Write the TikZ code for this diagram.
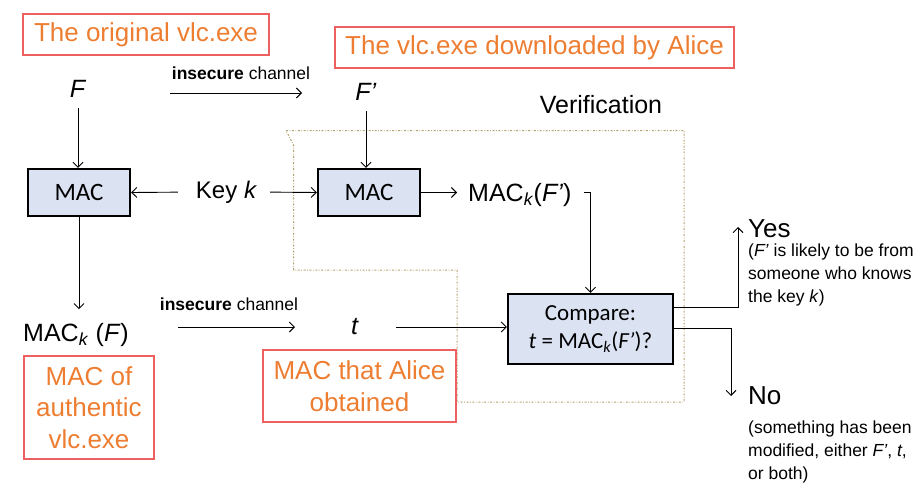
\documentclass[tikz,border=0pt]{standalone}
\usepackage{fontspec}
\setmainfont{Liberation Sans}
\newfontfamily\calib{Carlito}
\usetikzlibrary{arrows.meta}
\definecolor{orangeT}{RGB}{237,125,49}
\definecolor{redB}{RGB}{238,95,95}
\definecolor{macfill}{RGB}{219,227,243}
\definecolor{dotc}{RGB}{178,163,110}
\newcommand{\fsz}[2]{\fontsize{#1}{#2}\selectfont}
\begin{document}
\begin{tikzpicture}[x=1pt,y=-1pt,
  arr/.style={line width=0.9pt,-{Straight Barb[length=5pt,width=10pt,line width=0.9pt]}},
  lnk/.style={line width=0.9pt},
  redbox/.style={draw=redB,line width=1.3pt,text=orangeT,inner sep=0pt,align=center,font=\fsz{26}{31.5}},
  macbox/.style={draw=black,line width=2.4pt,fill=macfill,inner sep=0pt,align=center},
  txt/.style={inner sep=0pt,font=\fsz{25}{30}},
  chan/.style={inner sep=0pt,font=\fsz{17.5}{21}},
  small/.style={inner sep=0pt,align=left,font=\fsz{17.5}{23}}]
\useasboundingbox (0,0) rectangle (922,490);

% dotted verification region
\draw[dotc,line width=1pt,dash pattern=on 2pt off 1.6pt on 0.7pt off 1.6pt]
  (286,130.5) -- (684,130.5) -- (684,402) -- (457,402) -- (457,270) -- (293.5,270) -- (293.5,145) -- cycle;

% red labels
\node[redbox,minimum width=246pt,minimum height=41pt] (orig) at (146,34.5) {The original vlc.exe};
\node[redbox,minimum width=399pt,minimum height=41pt] (down) at (534.5,47.5) {The vlc.exe downloaded by Alice};
\node[redbox,minimum width=130pt,minimum height=103pt] (auth) at (89,407.5) {MAC of\\authentic\\vlc.exe};
\node[redbox,minimum width=193pt,minimum height=72pt] (obt) at (359.5,386) {MAC that Alice\\obtained};

% texts
\node[txt] (F) at (78,89) {\textit{F}};
\node[txt] (Fp) at (366,92) {\textit{F’}};
\node[txt] (ver) at (601,105) {Verification};
\node[txt,font=\fsz{24}{28}] (key) at (226.5,192) {Key \textit{k}};
\node[txt,anchor=base west] (mkfp) at (468,201) {MAC\textsubscript{\textit{k}}(\textit{F’})};
\node[txt,anchor=base west] (mkf) at (23,341) {MAC\textsubscript{\textit{k}} (\textit{F})};
\node[txt] (t) at (355,327) {\textit{t}};

% boxes
\node[macbox,minimum width=102pt,minimum height=47pt,font=\calib\fsz{25}{28}] (macL) at (79,192.5) {MAC};
\node[macbox,minimum width=102pt,minimum height=47pt,font=\calib\fsz{25}{28}] (macR) at (369,192.5) {MAC};
\node[macbox,minimum width=165pt,minimum height=70pt,font=\calib\fsz{23}{28}] (cmp) at (590.5,329) {Compare:\\\textit{t} = MAC\textsubscript{\textit{k}}(\textit{F’})?};

% outcomes
\node[txt,anchor=west,font=\fsz{26}{30}] (yes) at (748,229) {Yes};
\node[small,anchor=west] (yescap) at (748,274.5) {(\textit{F’} is likely to be from\\someone who knows\\the key \textit{k})};
\node[txt,anchor=west,font=\fsz{26}{30}] (no) at (748,396) {No};
\node[small,anchor=west] (nocap) at (748,452) {(something has been\\modified, either \textit{F’}, \textit{t},\\or both)};

% channels
\coordinate (c1a) at (170,93);
\coordinate (c1b) at (302,93);
\draw[arr] (c1a) -- (c1b);
\node[chan] (ch1) at (241,73) {\textbf{insecure} channel};
\coordinate (c2a) at (178,327);
\coordinate (c2b) at (295,327);
\draw[arr] (c2a) -- (c2b);
\node[chan] (ch2) at (229,304) {\textbf{insecure} channel};

% connectors
\draw[arr] ([yshift=-19pt]F.center) -- (F.center |- macL.north);
\draw[arr] ([yshift=-19pt]Fp.center) -- (Fp.center |- macR.north);
\draw[arr,shorten <=18pt] (key.west) -- (macL.east);
\draw[arr,shorten <=13pt] (key.east) -- (macR.west);
\draw[arr] (macL.south) -- ++(0,92);
\draw[arr,shorten >=11pt] (macR.east) -- (macR.east -| mkfp.west);
\draw[arr] ([xshift=12pt]mkfp.east |- macR.east) -| (cmp.north);
\draw[arr,shorten <=41pt] (t.center) -- (t.center -| cmp.west);
\coordinate (yesTip) at (738,227);
\coordinate (noTip) at (731,396);
\draw[arr] ([yshift=22pt]cmp.east) -| (yesTip);
\draw[arr] ([yshift=1pt]cmp.east) -| (noTip);
\end{tikzpicture}
\end{document}
